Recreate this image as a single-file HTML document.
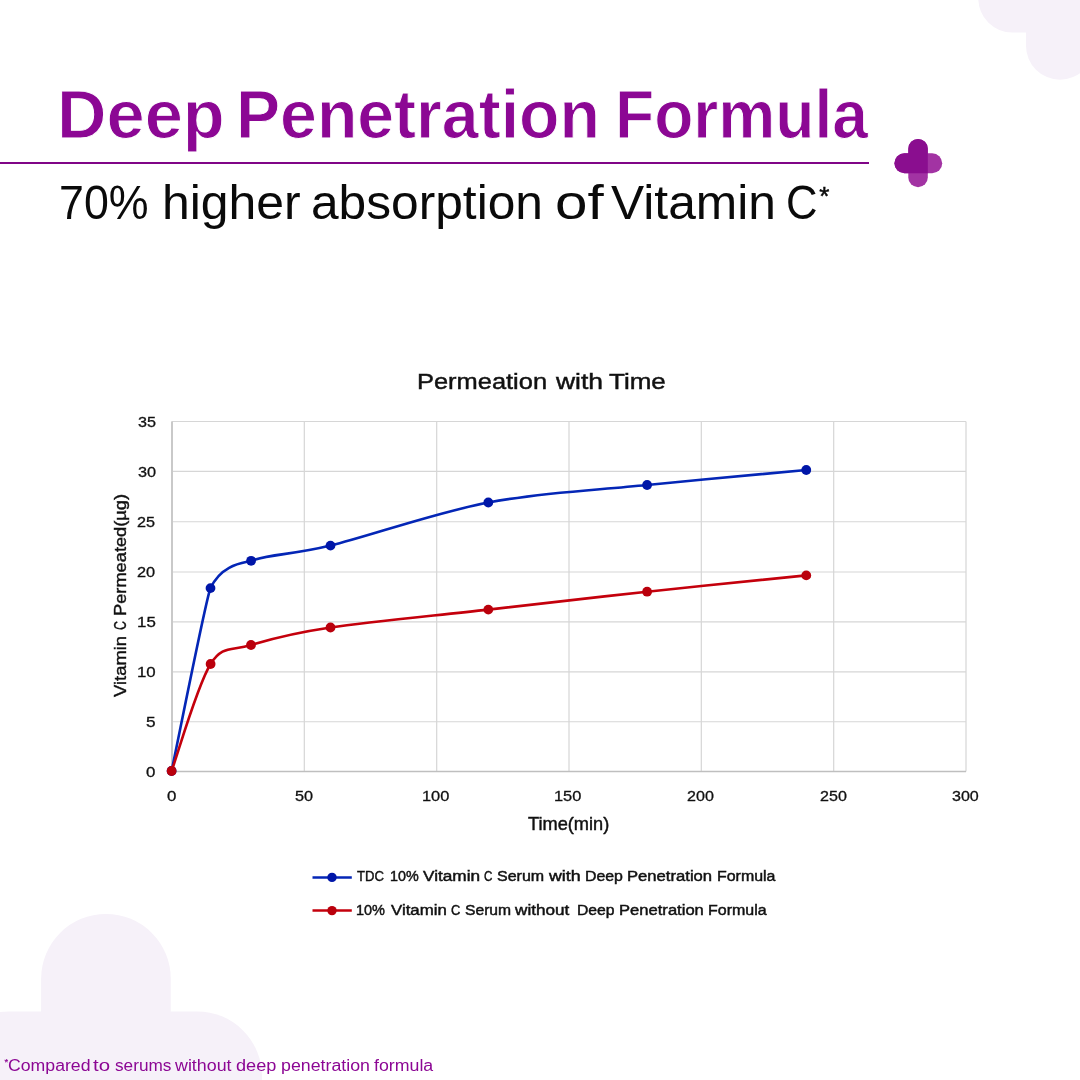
<!DOCTYPE html>
<html lang="en"><head><meta charset="utf-8"><title>Deep Penetration Formula</title>
<style>
html,body{margin:0;padding:0}
body{width:1080px;height:1080px;position:relative;overflow:hidden;background:#fff;font-family:"Liberation Sans",sans-serif}
.t{position:absolute;white-space:nowrap;transform-origin:0 0;font-family:"Liberation Sans",sans-serif}
.chart,.deco{position:absolute;left:0;top:0}
.rule{position:absolute;left:0;top:161.9px;width:868.5px;height:2.1px;background:#800587}
#page{position:absolute;left:0;top:0;width:1080px;height:1080px;overflow:hidden;will-change:transform}
</style></head><body><div id="page">
<svg class="deco" width="1080" height="1080" viewBox="0 0 1080 1080">
<g fill="#f6f1f9">
<rect x="1026" y="-83" width="68" height="162.7" rx="34"/><rect x="978.3" y="-35.5" width="163" height="68" rx="34"/>
<rect x="41.1" y="913.9" width="129.7" height="325" rx="64.85"/><rect x="-56" y="1011.4" width="318" height="129.7" rx="64.85"/>
</g>
<g>
<rect x="908.3" y="138.9" width="19.5" height="48.3" rx="9.75" fill="#a233a3"/>
<rect x="894.4" y="153.3" width="47.8" height="20" rx="10" fill="#a233a3"/>
<path d="M908.3,173.3 H904.4 a10,10 0 0 1 0,-20 H908.3 V148.65 a9.75,9.75 0 0 1 19.5,0 V173.3 Z" fill="#8a0e8f"/>
</g>
</svg>
<div class="rule"></div>
<div class="t" style="left:57.14px;top:79.82px;font-size:68.02px;line-height:68.02px;color:#8c0794;font-weight:700;-webkit-text-stroke:1.0px #fff;transform:scaleX(1.0083)">Deep</div>
<div class="t" style="left:236.41px;top:79.82px;font-size:68.02px;line-height:68.02px;color:#8c0794;font-weight:700;-webkit-text-stroke:1.0px #fff;transform:scaleX(0.9727)">Penetration</div>
<div class="t" style="left:615.07px;top:79.82px;font-size:68.02px;line-height:68.02px;color:#8c0794;font-weight:700;-webkit-text-stroke:1.0px #fff;transform:scaleX(0.9429)">Formula</div>
<div class="t" style="left:59.44px;top:178.61px;font-size:47.24px;line-height:47.24px;color:#0a0a0a;font-weight:400;-webkit-text-stroke:0px #0a0a0a;transform:scaleX(0.9477)">70%</div>
<div class="t" style="left:161.64px;top:178.61px;font-size:47.24px;line-height:47.24px;color:#0a0a0a;font-weight:400;-webkit-text-stroke:0px #0a0a0a;transform:scaleX(1.0567)">higher</div>
<div class="t" style="left:310.80px;top:178.61px;font-size:47.24px;line-height:47.24px;color:#0a0a0a;font-weight:400;-webkit-text-stroke:0px #0a0a0a;transform:scaleX(1.0514)">absorption</div>
<div class="t" style="left:555.30px;top:178.61px;font-size:47.24px;line-height:47.24px;color:#0a0a0a;font-weight:400;-webkit-text-stroke:0px #0a0a0a;transform:scaleX(1.2353)">of</div>
<div class="t" style="left:611.17px;top:178.61px;font-size:47.24px;line-height:47.24px;color:#0a0a0a;font-weight:400;-webkit-text-stroke:0px #0a0a0a;transform:scaleX(1.0531)">Vitamin</div>
<div class="t" style="left:785.86px;top:178.61px;font-size:47.24px;line-height:47.24px;color:#0a0a0a;font-weight:400;-webkit-text-stroke:0px #0a0a0a;transform:scaleX(0.9237)">C</div>
<div class="t" style="left:819.2px;top:183.3px;font-size:26px;line-height:26px;color:#0a0a0a;-webkit-text-stroke:0.5px #0a0a0a">*</div>
<svg class="chart" width="1080" height="1080" viewBox="0 0 1080 1080">
<path d="M172.00,421.50V771.50M304.33,421.50V771.50M436.67,421.50V771.50M569.00,421.50V771.50M701.33,421.50V771.50M833.67,421.50V771.50M966.00,421.50V771.50" stroke="#d9d9d9" stroke-width="1.3" fill="none"/>
<path d="M172.00,421.50H966.00M172.00,471.40H966.00M172.00,521.80H966.00M172.00,572.00H966.00M172.00,621.90H966.00M172.00,671.90H966.00M172.00,721.70H966.00M172.00,771.50H966.00" stroke="#d6d6d6" stroke-width="1.1" fill="none"/>
<path d="M172.00,421.50V771.50" stroke="#c9c9c9" stroke-width="2" fill="none"/>
<path d="M171.00,771.50H966.00" stroke="#bfbfbf" stroke-width="1.5" fill="none"/>
<path d="M171.60,771.00 C178.08,740.52 206.27,597.16 210.50,588.10 C222.12,563.18 245.44,562.80 251.10,560.80 C271.10,553.72 291.25,555.25 330.50,545.60 C370.03,535.88 435.53,512.60 488.30,502.50 C541.07,492.40 594.11,490.42 647.10,485.00 C700.09,479.58 779.73,472.50 806.25,470.00" stroke="#0426b6" stroke-width="2.6" fill="none" stroke-linecap="round"/>
<circle cx="171.60" cy="771.00" r="4.9" fill="#0016a8"/><circle cx="210.50" cy="588.10" r="4.9" fill="#0016a8"/><circle cx="251.10" cy="560.80" r="4.9" fill="#0016a8"/><circle cx="330.50" cy="545.60" r="4.9" fill="#0016a8"/><circle cx="488.30" cy="502.50" r="4.9" fill="#0016a8"/><circle cx="647.10" cy="485.00" r="4.9" fill="#0016a8"/><circle cx="806.25" cy="470.00" r="4.9" fill="#0016a8"/>
<path d="M171.60,771.00 C178.10,753.17 197.37,685.00 210.60,664.00 C222.50,645.11 231.02,651.08 251.00,645.00 C270.98,638.92 290.95,633.40 330.50,627.50 C370.05,621.60 435.53,615.57 488.30,609.60 C541.07,603.63 594.11,597.40 647.10,591.70 C700.09,586.00 779.73,578.12 806.25,575.40" stroke="#c4000c" stroke-width="2.6" fill="none" stroke-linecap="round"/>
<circle cx="171.60" cy="771.00" r="4.9" fill="#ba000c"/><circle cx="210.60" cy="664.00" r="4.9" fill="#ba000c"/><circle cx="251.00" cy="645.00" r="4.9" fill="#ba000c"/><circle cx="330.50" cy="627.50" r="4.9" fill="#ba000c"/><circle cx="488.30" cy="609.60" r="4.9" fill="#ba000c"/><circle cx="647.10" cy="591.70" r="4.9" fill="#ba000c"/><circle cx="806.25" cy="575.40" r="4.9" fill="#ba000c"/>
<path d="M312.5,877.4H351.8" stroke="#0426b6" stroke-width="2.5"/><circle cx="332" cy="877.4" r="4.7" fill="#0016a8"/>
<path d="M312.5,910.6H351.8" stroke="#c4000c" stroke-width="2.5"/><circle cx="332" cy="910.6" r="4.7" fill="#ba000c"/>
</svg>
<div class="t" style="left:417.15px;top:370.81px;font-size:22.31px;line-height:22.31px;color:#111;font-weight:400;-webkit-text-stroke:0.45px #111;transform:scaleX(1.1407)">Permeation</div>
<div class="t" style="left:555.81px;top:370.81px;font-size:22.31px;line-height:22.31px;color:#111;font-weight:400;-webkit-text-stroke:0.45px #111;transform:scaleX(1.1861)">with</div>
<div class="t" style="left:608.91px;top:370.81px;font-size:22.31px;line-height:22.31px;color:#111;font-weight:400;-webkit-text-stroke:0.45px #111;transform:scaleX(1.1656)">Time</div>
<div class="t" style="left:528.30px;top:815.44px;font-size:18.68px;line-height:18.68px;color:#111;font-weight:400;-webkit-text-stroke:0.45px #111;transform:scaleX(0.9753)">Time(min)</div>
<div class="t" style="left:357.10px;top:868.99px;font-size:14.03px;line-height:14.03px;color:#111;font-weight:400;-webkit-text-stroke:0.45px #111;transform:scaleX(0.9331)">TDC</div>
<div class="t" style="left:390.26px;top:868.99px;font-size:14.03px;line-height:14.03px;color:#111;font-weight:400;-webkit-text-stroke:0.45px #111;transform:scaleX(1.0201)">10%</div>
<div class="t" style="left:422.97px;top:868.98px;font-size:14.03px;line-height:14.03px;color:#111;font-weight:400;-webkit-text-stroke:0.45px #111;transform:scaleX(1.2277)">Vitamin</div>
<div class="t" style="left:484.47px;top:868.98px;font-size:14.03px;line-height:14.03px;color:#111;font-weight:400;-webkit-text-stroke:0.45px #111;transform:scaleX(0.8280)">C</div>
<div class="t" style="left:497.06px;top:868.99px;font-size:14.03px;line-height:14.03px;color:#111;font-weight:400;-webkit-text-stroke:0.45px #111;transform:scaleX(1.1412)">Serum</div>
<div class="t" style="left:548.62px;top:868.98px;font-size:14.03px;line-height:14.03px;color:#111;font-weight:400;-webkit-text-stroke:0.45px #111;transform:scaleX(1.2708)">with</div>
<div class="t" style="left:584.90px;top:868.99px;font-size:14.03px;line-height:14.03px;color:#111;font-weight:400;-webkit-text-stroke:0.45px #111;transform:scaleX(1.1314)">Deep</div>
<div class="t" style="left:626.65px;top:868.99px;font-size:14.03px;line-height:14.03px;color:#111;font-weight:400;-webkit-text-stroke:0.45px #111;transform:scaleX(1.1872)">Penetration</div>
<div class="t" style="left:716.93px;top:868.99px;font-size:14.03px;line-height:14.03px;color:#111;font-weight:400;-webkit-text-stroke:0.45px #111;transform:scaleX(1.1362)">Formula</div>
<div class="t" style="left:355.83px;top:902.98px;font-size:14.46px;line-height:14.46px;color:#111;font-weight:400;-webkit-text-stroke:0.45px #111;transform:scaleX(1.0005)">10%</div>
<div class="t" style="left:390.55px;top:902.96px;font-size:14.46px;line-height:14.46px;color:#111;font-weight:400;-webkit-text-stroke:0.45px #111;transform:scaleX(1.1641)">Vitamin</div>
<div class="t" style="left:451.43px;top:902.96px;font-size:14.46px;line-height:14.46px;color:#111;font-weight:400;-webkit-text-stroke:0.45px #111;transform:scaleX(0.8893)">C</div>
<div class="t" style="left:464.72px;top:902.98px;font-size:14.46px;line-height:14.46px;color:#111;font-weight:400;-webkit-text-stroke:0.45px #111;transform:scaleX(1.0830)">Serum</div>
<div class="t" style="left:515.41px;top:902.96px;font-size:14.46px;line-height:14.46px;color:#111;font-weight:400;-webkit-text-stroke:0.45px #111;transform:scaleX(1.1860)">without</div>
<div class="t" style="left:576.69px;top:902.98px;font-size:14.46px;line-height:14.46px;color:#111;font-weight:400;-webkit-text-stroke:0.45px #111;transform:scaleX(1.0889)">Deep</div>
<div class="t" style="left:619.26px;top:902.97px;font-size:14.46px;line-height:14.46px;color:#111;font-weight:400;-webkit-text-stroke:0.45px #111;transform:scaleX(1.1478)">Penetration</div>
<div class="t" style="left:707.72px;top:902.97px;font-size:14.46px;line-height:14.46px;color:#111;font-weight:400;-webkit-text-stroke:0.45px #111;transform:scaleX(1.1046)">Formula</div>
<div class="t" style="left:8.36px;top:1056.76px;font-size:17.30px;line-height:17.30px;color:#8c0794;font-weight:400;-webkit-text-stroke:0px #8c0794;transform:scaleX(1.0228)">Compared</div>
<div class="t" style="left:92.91px;top:1056.76px;font-size:17.30px;line-height:17.30px;color:#8c0794;font-weight:400;-webkit-text-stroke:0px #8c0794;transform:scaleX(1.1815)">to</div>
<div class="t" style="left:114.57px;top:1056.76px;font-size:17.30px;line-height:17.30px;color:#8c0794;font-weight:400;-webkit-text-stroke:0px #8c0794;transform:scaleX(0.9962)">serums</div>
<div class="t" style="left:174.74px;top:1056.76px;font-size:17.30px;line-height:17.30px;color:#8c0794;font-weight:400;-webkit-text-stroke:0px #8c0794;transform:scaleX(1.0319)">without</div>
<div class="t" style="left:236.49px;top:1056.76px;font-size:17.30px;line-height:17.30px;color:#8c0794;font-weight:400;-webkit-text-stroke:0px #8c0794;transform:scaleX(1.0502)">deep</div>
<div class="t" style="left:280.53px;top:1056.76px;font-size:17.30px;line-height:17.30px;color:#8c0794;font-weight:400;-webkit-text-stroke:0px #8c0794;transform:scaleX(1.0282)">penetration</div>
<div class="t" style="left:373.90px;top:1056.76px;font-size:17.30px;line-height:17.30px;color:#8c0794;font-weight:400;-webkit-text-stroke:0px #8c0794;transform:scaleX(1.0272)">formula</div>
<div class="t" style="left:111.91px;top:697.20px;font-size:17.00px;line-height:17.00px;color:#111;font-weight:400;-webkit-text-stroke:0.4px #111;transform:rotate(-90deg) scaleX(1.0836)">Vitamin</div>
<div class="t" style="left:111.91px;top:630.45px;font-size:17.00px;line-height:17.00px;color:#111;font-weight:400;-webkit-text-stroke:0.4px #111;transform:rotate(-90deg) scaleX(0.7327)">C</div>
<div class="t" style="left:111.91px;top:615.97px;font-size:17.00px;line-height:17.00px;color:#111;font-weight:400;-webkit-text-stroke:0.4px #111;transform:rotate(-90deg) scaleX(1.0735)">Permeated(µg)</div>
<div class="t" style="left:137.56px;top:414.80px;font-size:14.68px;line-height:14.68px;color:#111;font-weight:400;-webkit-text-stroke:0.3px #111;transform:scaleX(1.1013)">35</div>
<div class="t" style="left:137.55px;top:464.79px;font-size:14.68px;line-height:14.68px;color:#111;font-weight:400;-webkit-text-stroke:0.3px #111;transform:scaleX(1.1088)">30</div>
<div class="t" style="left:137.49px;top:514.79px;font-size:14.68px;line-height:14.68px;color:#111;font-weight:400;-webkit-text-stroke:0.3px #111;transform:scaleX(1.1027)">25</div>
<div class="t" style="left:137.47px;top:564.79px;font-size:14.68px;line-height:14.68px;color:#111;font-weight:400;-webkit-text-stroke:0.3px #111;transform:scaleX(1.1112)">20</div>
<div class="t" style="left:136.62px;top:614.79px;font-size:14.68px;line-height:14.68px;color:#111;font-weight:400;-webkit-text-stroke:0.3px #111;transform:scaleX(1.1495)">15</div>
<div class="t" style="left:136.63px;top:664.79px;font-size:14.68px;line-height:14.68px;color:#111;font-weight:400;-webkit-text-stroke:0.3px #111;transform:scaleX(1.1466)">10</div>
<div class="t" style="left:146.00px;top:714.79px;font-size:14.68px;line-height:14.68px;color:#111;font-weight:400;-webkit-text-stroke:0.3px #111;transform:scaleX(1.1732)">5</div>
<div class="t" style="left:146.43px;top:764.79px;font-size:14.68px;line-height:14.68px;color:#111;font-weight:400;-webkit-text-stroke:0.3px #111;transform:scaleX(1.1488)">0</div>
<div class="t" style="left:167.08px;top:789.18px;font-size:14.68px;line-height:14.68px;color:#111;font-weight:400;-webkit-text-stroke:0.3px #111;transform:scaleX(1.1488)">0</div>
<div class="t" style="left:294.65px;top:789.18px;font-size:14.68px;line-height:14.68px;color:#111;font-weight:400;-webkit-text-stroke:0.3px #111;transform:scaleX(1.1052)">50</div>
<div class="t" style="left:421.96px;top:789.18px;font-size:14.68px;line-height:14.68px;color:#111;font-weight:400;-webkit-text-stroke:0.3px #111;transform:scaleX(1.1173)">100</div>
<div class="t" style="left:554.28px;top:789.18px;font-size:14.68px;line-height:14.68px;color:#111;font-weight:400;-webkit-text-stroke:0.3px #111;transform:scaleX(1.1173)">150</div>
<div class="t" style="left:687.44px;top:789.18px;font-size:14.68px;line-height:14.68px;color:#111;font-weight:400;-webkit-text-stroke:0.3px #111;transform:scaleX(1.0959)">200</div>
<div class="t" style="left:819.78px;top:789.18px;font-size:14.68px;line-height:14.68px;color:#111;font-weight:400;-webkit-text-stroke:0.3px #111;transform:scaleX(1.0959)">250</div>
<div class="t" style="left:952.17px;top:789.18px;font-size:14.68px;line-height:14.68px;color:#111;font-weight:400;-webkit-text-stroke:0.3px #111;transform:scaleX(1.0945)">300</div>
<div class="t" style="left:4.5px;top:1057.4px;font-size:9.5px;line-height:9.5px;color:#8c0794;-webkit-text-stroke:0.2px #8c0794">*</div>
</div></body></html>
